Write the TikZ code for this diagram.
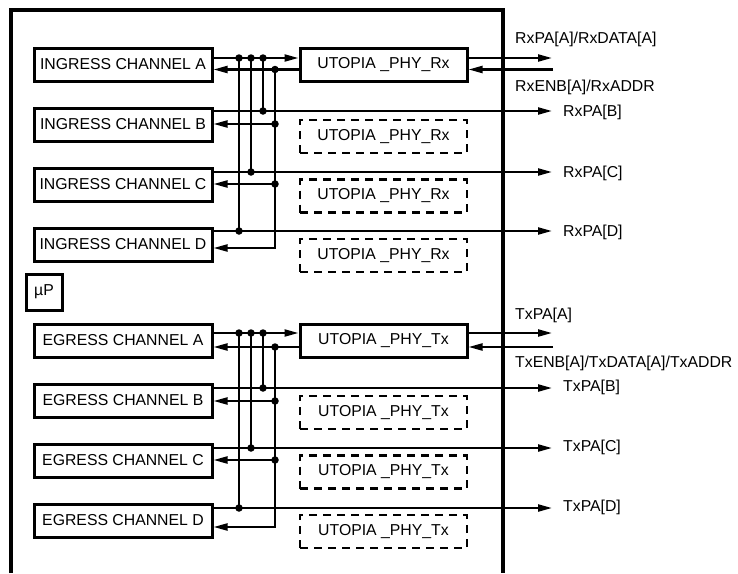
\documentclass[tikz,border=0pt]{standalone}
\usepackage{fontspec}
\setmainfont{Liberation Sans}
\usetikzlibrary{arrows.meta}

\begin{document}
\begin{tikzpicture}[x=1pt,y=-1pt,font=\fontsize{15.8}{19}\selectfont,
  chan/.style={draw,line width=3pt,minimum width=178pt,minimum height=33pt,inner sep=0pt},
  phy/.style={draw,line width=3pt,minimum width=167pt,minimum height=33pt,inner sep=0pt},
  ghost/.style={draw,line width=2.6pt,dash pattern=on 8pt off 6pt,minimum width=167pt,minimum height=33pt,inner sep=0pt},
  sig/.style={line width=2.2pt,-{Triangle[length=14pt,width=7pt]}},
  bus/.style={line width=2.2pt},
  junc/.style={circle,fill,inner sep=0pt,minimum size=7.5pt},
  lbl/.style={anchor=west,inner sep=0pt}]
\useasboundingbox (0,0) rectangle (738,573);
\draw[line width=3.2pt] (11,573) -- (11,10) -- (503,10) -- (503,573);

% ingress side
\node[chan] (ia) at (123,64.5) {INGRESS CHANNEL A};
\node[chan] (ib) at (123,124.5) {INGRESS CHANNEL B};
\node[chan] (ic) at (123,184.5) {INGRESS CHANNEL C};
\node[chan] (id) at (123,244.5) {INGRESS CHANNEL D};
\node[phy] (urx) at (383.5,64.5) {UTOPIA \_PHY\_Rx};
\node[ghost] (urxb) at (383.5,136.5) {UTOPIA \_PHY\_Rx};
\node[ghost] (urxc) at (383.5,196) {UTOPIA \_PHY\_Rx};
\node[ghost] (urxd) at (383.5,255.5) {UTOPIA \_PHY\_Rx};

\node[junc] (ra1) at (239,58) {};
\node[junc] (ra2) at (251,58) {};
\node[junc] (ra3) at (263,58) {};
\node[junc] (ra4) at (275,69.5) {};
\node[junc] (rb1) at (263,111) {};
\node[junc] (rb2) at (275,124) {};
\node[junc] (rc1) at (251,172) {};
\node[junc] (rc2) at (275,184) {};
\node[junc] (rd1) at (239,231) {};
\coordinate (rdk) at (275,248);

\coordinate (rxa) at (552,58);
\coordinate (rxe) at (553,69.5);
\coordinate (rxb) at (552,111);
\coordinate (rxc) at (552,172);
\coordinate (rxd) at (552,231);

\draw[sig] (ia.east |- ra1.center) -- (urx.west |- ra1.center);
\draw[sig] (urx.west |- ra4.center) -- (ia.east |- ra4.center);
\draw[sig] (urx.east |- rxa) -- (rxa);
\draw[sig] (rxe) -- (urx.east |- rxe);
\draw[sig] (ib.east |- rxb) -- (rxb);
\draw[sig] (ic.east |- rxc) -- (rxc);
\draw[sig] (id.east |- rxd) -- (rxd);
\draw[sig] (rb2.center) -- (ib.east |- rb2.center);
\draw[sig] (rc2.center) -- (ic.east |- rc2.center);
\draw[sig] (ra4.center) -- (rdk) -- (id.east |- rdk);
\draw[bus] (ra1.center) -- (rd1.center);
\draw[bus] (ra2.center) -- (rc1.center);
\draw[bus] (ra3.center) -- (rb1.center);

\node[lbl] (lrxa) at (515,39) {RxPA[A]/RxDATA[A]};
\node[lbl] (lrxe) at (515,87) {RxENB[A]/RxADDR};
\node[lbl] (lrxb) at (563,112) {RxPA[B]};
\node[lbl] (lrxc) at (563,173) {RxPA[C]};
\node[lbl] (lrxd) at (563,232) {RxPA[D]};

\node[draw,line width=3pt,minimum size=36pt,inner sep=0pt] (up) at (44,292) {µP};

% egress side
\node[chan] (ea) at (123,340.5) {EGRESS CHANNEL A};
\node[chan] (eb) at (123,400.5) {EGRESS CHANNEL B};
\node[chan] (ec) at (123,460.5) {EGRESS CHANNEL C};
\node[chan] (ed) at (123,520.5) {EGRESS CHANNEL D};
\node[phy] (utx) at (383.5,340.5) {UTOPIA \_PHY\_Tx};
\node[ghost] (utxb) at (383.5,412.5) {UTOPIA \_PHY\_Tx};
\node[ghost] (utxc) at (383.5,472) {UTOPIA \_PHY\_Tx};
\node[ghost] (utxd) at (383.5,531.5) {UTOPIA \_PHY\_Tx};

\node[junc] (ta1) at (239,333) {};
\node[junc] (ta2) at (251,333) {};
\node[junc] (ta3) at (263,333) {};
\node[junc] (ta4) at (275,347) {};
\node[junc] (tb1) at (263,388) {};
\node[junc] (tb2) at (275,401) {};
\node[junc] (tc1) at (251,448) {};
\node[junc] (tc2) at (275,460) {};
\node[junc] (td1) at (239,508) {};
\coordinate (tdk) at (275,527);

\coordinate (txa) at (552,333);
\coordinate (txe) at (553,347);
\coordinate (txb) at (552,388);
\coordinate (txc) at (552,448);
\coordinate (txd) at (552,508);

\draw[sig] (ea.east |- ta1.center) -- (utx.west |- ta1.center);
\draw[sig] (utx.west |- ta4.center) -- (ea.east |- ta4.center);
\draw[sig] (utx.east |- txa) -- (txa);
\draw[sig] (txe) -- (utx.east |- txe);
\draw[sig] (eb.east |- txb) -- (txb);
\draw[sig] (ec.east |- txc) -- (txc);
\draw[sig] (ed.east |- txd) -- (txd);
\draw[sig] (tb2.center) -- (eb.east |- tb2.center);
\draw[sig] (tc2.center) -- (ec.east |- tc2.center);
\draw[sig] (ta4.center) -- (tdk) -- (ed.east |- tdk);
\draw[bus] (ta1.center) -- (td1.center);
\draw[bus] (ta2.center) -- (tc1.center);
\draw[bus] (ta3.center) -- (tb1.center);

\node[lbl] (ltxa) at (515,315) {TxPA[A]};
\node[lbl] (ltxe) at (515,363) {TxENB[A]/TxDATA[A]/TxADDR};
\node[lbl] (ltxb) at (563,387) {TxPA[B]};
\node[lbl] (ltxc) at (563,447) {TxPA[C]};
\node[lbl] (ltxd) at (563,507) {TxPA[D]};
\end{tikzpicture}
\end{document}
